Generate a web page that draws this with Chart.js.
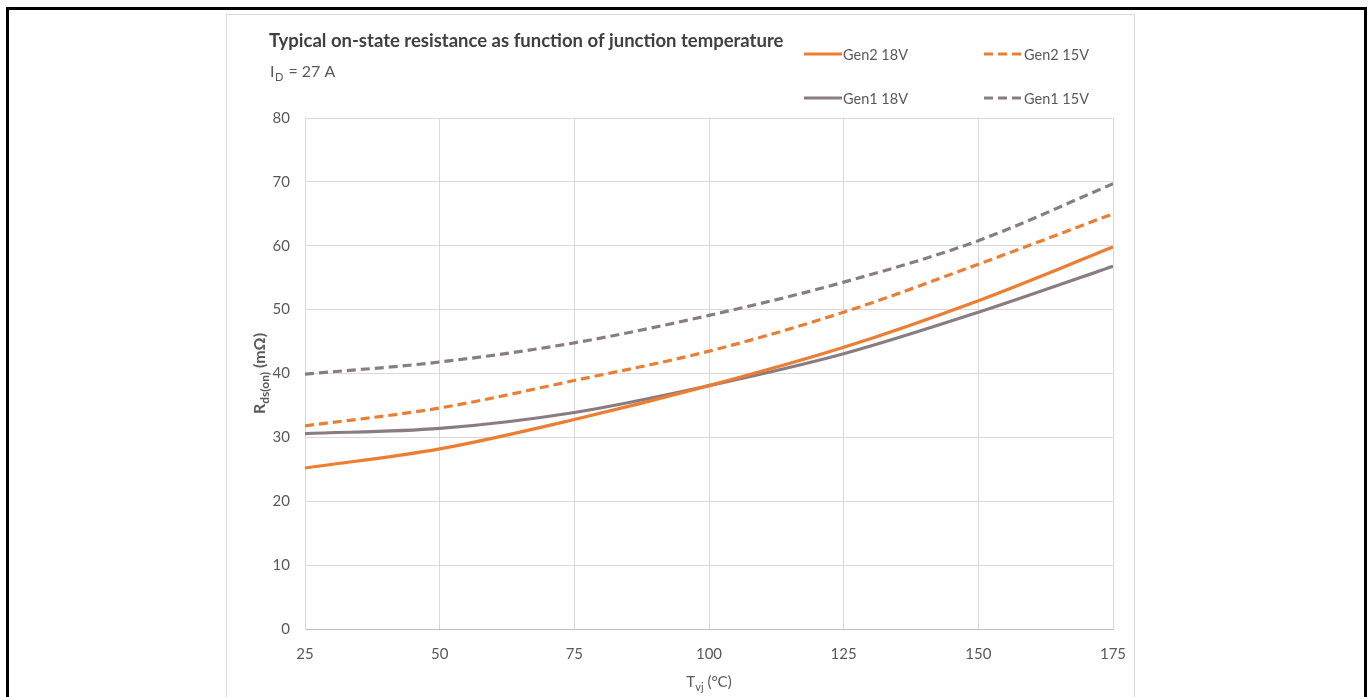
<!DOCTYPE html>
<html>
<head>
<meta charset="utf-8">
<script src="https://cdn.jsdelivr.net/npm/chart.js@4.4.1/dist/chart.umd.min.js"></script>
<style>
  html, body { margin:0; padding:0; background:#fff; overflow:hidden; width:1368px; height:697px; }
  #frame { position:absolute; left:6px; top:7px; width:1355px; height:720px; border:3px solid #000; }
  #box { position:absolute; left:226px; top:14px; width:907px; height:700px; border:1px solid #d9d9d9; background:#fff; }
  #c { position:absolute; left:0; top:0; }
</style>
</head>
<body>
<div id="frame"></div>
<div id="box"><canvas id="c" width="907" height="683"></canvas></div>
<script>
// ---- data ----
const temps   = [25, 50, 75, 100, 125, 150, 175];
const gen2_18 = [25.2, 28.2, 32.8, 38.1, 44.1, 51.4, 59.8];
const gen2_15 = [31.8, 34.6, 38.9, 43.5, 49.6, 57.1, 65.0];
const gen1_18 = [30.6, 31.4, 33.9, 38.1, 43.1, 49.6, 56.8];
const gen1_15 = [39.9, 41.8, 44.8, 49.1, 54.3, 60.8, 69.7];
const seriesNames = ['Gen2 18V', 'Gen2 15V', 'Gen1 18V', 'Gen1 15V'];
const titleText = 'Typical on-state resistance as function of junction temperature';

const ORANGE = '#ED7D31';
const GRAY = '#8A7C83';
const TXT = '#595959';
const FONT = 'Lato, "Open Sans", sans-serif';
const DASH = [9, 5];

function pts(ys) { return temps.map((t, i) => ({ x: t, y: ys[i] })); }

const styles = [
  { color: ORANGE, dash: [] },
  { color: ORANGE, dash: DASH },
  { color: GRAY, dash: [] },
  { color: GRAY, dash: DASH }
];
const allSeries = [gen2_18, gen2_15, gen1_18, gen1_15];

const datasets = allSeries.map((s, i) => ({
  label: seriesNames[i],
  data: pts(s),
  borderColor: styles[i].color,
  backgroundColor: styles[i].color,
  borderDash: styles[i].dash,
  borderWidth: 3.2,
  pointRadius: 0,
  cubicInterpolationMode: 'monotone',
  fill: false,
  order: i < 2 ? 1 : 2
}));

const decor = {
  id: 'decor',
  afterDraw(chart) {
    const ctx = chart.ctx;
    ctx.save();
    // title
    ctx.fillStyle = '#404040';
    ctx.font = 'bold 18.5px ' + FONT;
    ctx.textBaseline = 'alphabetic';
    ctx.textAlign = 'left';
    ctx.fillText(titleText, 42, 32);
    // subtitle I_D = 27 A
    ctx.fillStyle = TXT;
    ctx.font = '16px ' + FONT;
    let x = 43;
    ctx.fillText('I', x, 62); x += ctx.measureText('I').width + 0.5;
    ctx.font = '11px ' + FONT;
    ctx.fillText('D', x, 66); x += ctx.measureText('D').width + 1;
    ctx.font = '16px ' + FONT;
    ctx.fillText(' = 27 A', x, 62);

    // legend
    const leg = [
      { lx: 577, tx: 616, y: 39 },
      { lx: 757, tx: 797, y: 39 },
      { lx: 577, tx: 616, y: 83 },
      { lx: 757, tx: 797, y: 83 }
    ];
    ctx.font = '14.5px ' + FONT;
    ctx.textBaseline = 'middle';
    leg.forEach((p, i) => {
      ctx.strokeStyle = styles[i].color;
      ctx.lineWidth = 3.2;
      ctx.setLineDash(styles[i].dash);
      ctx.beginPath();
      ctx.moveTo(p.lx, p.y);
      ctx.lineTo(p.tx - 1, p.y);
      ctx.stroke();
      ctx.setLineDash([]);
      ctx.fillStyle = TXT;
      ctx.fillText(seriesNames[i], p.tx, p.y + 1);
    });

    // y axis title (rotated) R_ds(on) (mΩ)
    const ca = chart.chartArea;
    ctx.translate(33, (ca.top + ca.bottom) / 2);
    ctx.rotate(-Math.PI / 2);
    ctx.textBaseline = 'alphabetic';
    const parts = [
      { t: 'R', f: 'bold 16px ' + FONT, dy: 0 },
      { t: 'ds(on)', f: 'bold 12px ' + FONT, dy: 4 },
      { t: ' (m\u03A9)', f: 'bold 16px ' + FONT, dy: 0 }
    ];
    let w = 0;
    parts.forEach(p => { ctx.font = p.f; w += ctx.measureText(p.t).width; });
    let cx = -w / 2;
    ctx.fillStyle = TXT;
    parts.forEach(p => { ctx.font = p.f; ctx.fillText(p.t, cx, 5 + p.dy); cx += ctx.measureText(p.t).width; });
    ctx.setTransform(1, 0, 0, 1, 0, 0);

    // x axis title T_vj (°C)
    const xparts = [
      { t: 'T', f: '15px ' + FONT, dy: 0 },
      { t: 'vj', f: '11px ' + FONT, dy: 4 },
      { t: ' (\u00B0C)', f: '15px ' + FONT, dy: 0 }
    ];
    w = 0;
    xparts.forEach(p => { ctx.font = p.f; w += ctx.measureText(p.t).width; });
    cx = (ca.left + ca.right) / 2 - w / 2;
    xparts.forEach(p => { ctx.font = p.f; ctx.fillText(p.t, cx, 672 + p.dy); cx += ctx.measureText(p.t).width; });
    ctx.restore();
  }
};

new Chart(document.getElementById('c'), {
  type: 'line',
  data: { datasets },
  options: {
    responsive: false,
    animation: false,
    layout: { padding: { left: 0, top: 103, right: 21, bottom: 0 } },
    plugins: { legend: { display: false }, title: { display: false }, tooltip: { enabled: false } },
    scales: {
      x: {
        type: 'linear', min: 25, max: 175,
        afterFit(s) { s.height = 69; s.paddingLeft = 0; s.paddingRight = 0; },
        grid: { color: '#D9D9D9', lineWidth: 1, drawTicks: false },
        border: { color: '#BFBFBF', width: 1 },
        ticks: { stepSize: 25, color: TXT, font: { family: FONT, size: 15 }, padding: 16, maxRotation: 0 }
      },
      y: {
        min: 0, max: 80,
        afterFit(s) { s.width = 78; s.paddingTop = 0; s.paddingBottom = 0; },
        grid: { color: '#D9D9D9', lineWidth: 1, drawTicks: false },
        border: { color: '#D9D9D9', width: 1 },
        ticks: { stepSize: 10, color: TXT, font: { family: FONT, size: 15 }, padding: 15 }
      }
    }
  },
  plugins: [decor]
});
</script>
</body>
</html>
